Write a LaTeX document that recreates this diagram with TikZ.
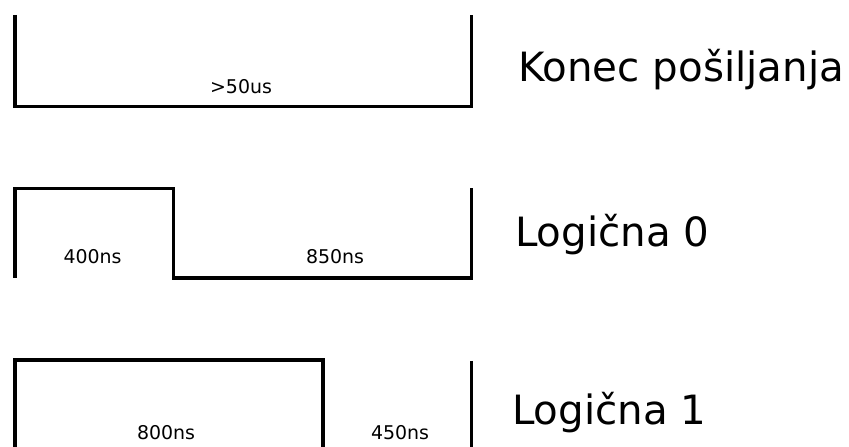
\documentclass[tikz,border=0pt]{standalone}
\usepackage{fontspec}
\setmainfont{DejaVu Sans}
\usepackage{tikz}
\usetikzlibrary{arrows.meta}

\tikzset{
  signal/.style={line width=3.5bp, line join=miter},
  timelbl/.style={anchor=base, inner sep=0pt, font=\fontsize{19}{21}\selectfont},
  bitlbl/.style={anchor=base west, inner sep=0pt, font=\fontsize{40.5}{46}\selectfont}
}

\begin{document}
\begin{tikzpicture}[x=1bp, y=-1bp]
  \useasboundingbox (0,0) rectangle (849,447);
  % konec
  \draw[signal] (15,15) -- (15,106.5) -- (471.5,106.5) -- (471.5,15);
  \node[timelbl] (tend) at (241,94) {>50us};
  \node[bitlbl] (lend) at (518,82) {Konec pošiljanja};
  % logicna 0
  \draw[signal] (15,278) -- (15,188.5) -- (173.3,188.5) -- (173.3,278) -- (471.5,278) -- (471.5,188);
  \node[timelbl] (tzhi) at (92.5,264) {400ns};
  \node[timelbl] (tzlo) at (335,264) {850ns};
  \node[bitlbl] (lzero) at (515,247) {Logična 0};
  % logicna 1
  \draw[signal] (15,447) -- (15,360) -- (323,360) -- (323,447);
  \draw[signal] (471.5,361) -- (471.5,447);
  \node[timelbl] (tohi) at (166,439) {800ns};
  \node[timelbl] (tolo) at (400,439) {450ns};
  \node[bitlbl] (lone) at (512,424) {Logična 1};
\end{tikzpicture}
\end{document}
